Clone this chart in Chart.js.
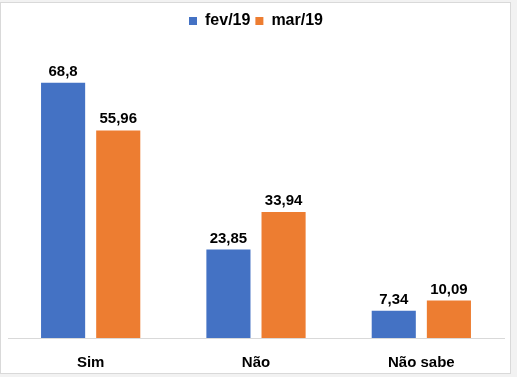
<!DOCTYPE html>
<html>
<head>
<meta charset="utf-8">
<script src="https://cdn.jsdelivr.net/npm/chart.js@4/dist/chart.umd.min.js"></script>
<style>
html,body{margin:0;padding:0;background:#f2f2f2;width:517px;height:377px;overflow:hidden;}
#frame{position:absolute;left:0;top:2px;width:511px;height:372px;box-sizing:border-box;background:#fff;border:1px solid #d9d9d9;}
#c{position:absolute;left:0;top:0;}
</style>
</head>
<body>
<div id="frame"></div>
<canvas id="c" width="517" height="377"></canvas>
<script>
const categories = ["Sim", "Não", "Não sabe"];
const seriesNames = ["fev/19", "mar/19"];
const fev19 = [68.8, 23.85, 7.34];
const mar19 = [55.96, 33.94, 10.09];

const FONT = "'Liberation Sans', Arial, sans-serif";

const labelPlugin = {
  id: 'valueLabels',
  afterDatasetsDraw(chart) {
    const ctx = chart.ctx;
    ctx.save();
    ctx.font = "bold 15px " + FONT;
    ctx.fillStyle = "#000";
    ctx.textAlign = "center";
    ctx.textBaseline = "alphabetic";
    chart.data.datasets.forEach((ds, di) => {
      const meta = chart.getDatasetMeta(di);
      meta.data.forEach((el, i) => {
        const txt = String(ds.data[i]).replace('.', ',');
        ctx.fillText(txt, el.x, el.y - 7);
      });
    });
    ctx.restore();
  }
};

new Chart(document.getElementById('c'), {
  type: 'bar',
  data: {
    labels: categories,
    datasets: [
      { label: seriesNames[0], data: fev19, backgroundColor: '#4472C4', categoryPercentage: 0.667, barPercentage: 0.8 },
      { label: seriesNames[1], data: mar19, backgroundColor: '#ED7D31', categoryPercentage: 0.667, barPercentage: 0.8 }
    ]
  },
  options: {
    responsive: false,
    animation: false,
    layout: { padding: { left: 8, right: 13, top: 8, bottom: -11 } },
    plugins: {
      legend: {
        position: 'top',
        labels: {
          boxWidth: 8, boxHeight: 8,
          color: '#000',
          font: { family: FONT, size: 16, weight: 'bold' },
          padding: 5
        }
      },
      tooltip: { enabled: false }
    },
    scales: {
      x: {
        grid: { display: false, drawTicks: false },
        border: { display: true, color: '#d9d9d9' },
        ticks: { color: '#000', font: { family: FONT, size: 15, weight: 'bold' }, padding: 16 }
      },
      y: {
        display: false,
        min: 0, max: 80.6
      }
    }
  },
  plugins: [labelPlugin]
});
</script>
</body>
</html>
